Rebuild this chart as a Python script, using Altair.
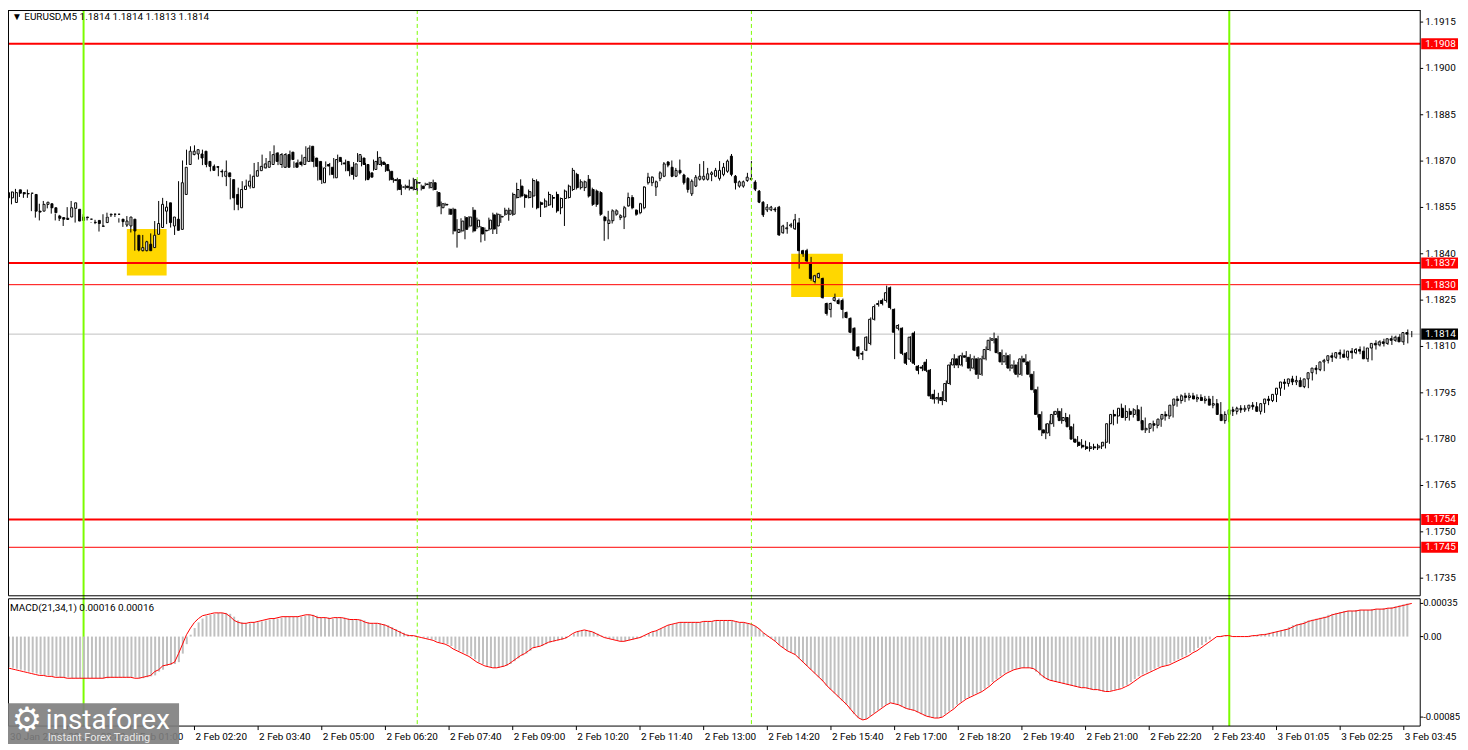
import altair as alt
import pandas as pd

# ---------------- data (EURUSD M5, bar index 0 = 30 Jan 22:20) ----------------
opens = [
 1.18581, 1.18581, 1.18566, 1.18607, 1.18598, 1.18595, 1.18596, 1.18592, 1.18538, 1.18538,
 1.18560, 1.18562, 1.18549, 1.18522, 1.18517, 1.18515, 1.18519, 1.18547, 1.18544, 1.18519,
 1.18517, 1.18512, 1.18502, 1.18508, 1.18490, 1.18501, 1.18526, 1.18528, 1.18528, 1.18512,
 1.18493, 1.18490, 1.18512, 1.18460, 1.18410, 1.18410, 1.18431, 1.18420, 1.18463, 1.18485,
 1.18538, 1.18565, 1.18490, 1.18512, 1.18479, 1.18592, 1.18689, 1.18721, 1.18723, 1.18723,
 1.18732, 1.18699, 1.18683, 1.18682, 1.18667, 1.18651, 1.18662, 1.18640, 1.18592, 1.18549,
 1.18608, 1.18619, 1.18614, 1.18651, 1.18669, 1.18678, 1.18680, 1.18689, 1.18726, 1.18689,
 1.18680, 1.18721, 1.18729, 1.18694, 1.18697, 1.18689, 1.18699, 1.18748, 1.18710, 1.18699,
 1.18630, 1.18689, 1.18680, 1.18646, 1.18712, 1.18694, 1.18699, 1.18680, 1.18651, 1.18699,
 1.18710, 1.18689, 1.18662, 1.18673, 1.18689, 1.18697, 1.18689, 1.18667, 1.18640, 1.18640,
 1.18616, 1.18619, 1.18616, 1.18608, 1.18630, 1.18619, 1.18626, 1.18614, 1.18630, 1.18598,
 1.18549, 1.18560, 1.18544, 1.18544, 1.18469, 1.18474, 1.18517, 1.18490, 1.18541, 1.18487,
 1.18485, 1.18476, 1.18480, 1.18526, 1.18490, 1.18519, 1.18528, 1.18528, 1.18528, 1.18582,
 1.18619, 1.18590, 1.18582, 1.18587, 1.18633, 1.18565, 1.18552, 1.18558, 1.18582, 1.18592,
 1.18549, 1.18579, 1.18582, 1.18608, 1.18657, 1.18614, 1.18614, 1.18641, 1.18608, 1.18603,
 1.18598, 1.18519, 1.18498, 1.18507, 1.18528, 1.18517, 1.18519, 1.18555, 1.18582, 1.18541,
 1.18533, 1.18549, 1.18630, 1.18630, 1.18616, 1.18644, 1.18651, 1.18697, 1.18680, 1.18651,
 1.18670, 1.18655, 1.18644, 1.18594, 1.18619, 1.18641, 1.18641, 1.18641, 1.18657, 1.18651,
 1.18644, 1.18657, 1.18667, 1.18716, 1.18651, 1.18619, 1.18619, 1.18637, 1.18644, 1.18632,
 1.18603, 1.18567, 1.18542, 1.18542, 1.18545, 1.18551, 1.18468, 1.18481, 1.18490, 1.18481,
 1.18500, 1.18410, 1.18410, 1.18371, 1.18310, 1.18323, 1.18320, 1.18239, 1.18220, 1.18249,
 1.18249, 1.18249, 1.18210, 1.18191, 1.18159, 1.18098, 1.18078, 1.18088, 1.18110, 1.18188,
 1.18236, 1.18249, 1.18249, 1.18290, 1.18220, 1.18159, 1.18159, 1.18078, 1.18059, 1.18143,
 1.18036, 1.18033, 1.18049, 1.18023, 1.17945, 1.17930, 1.17935, 1.17925, 1.17980, 1.18040,
 1.18060, 1.18040, 1.18070, 1.18065, 1.18030, 1.18060, 1.18010, 1.18060, 1.18090, 1.18120,
 1.18125, 1.18080, 1.18050, 1.18070, 1.18030, 1.18040, 1.18010, 1.18060, 1.18050, 1.18010,
 1.17960, 1.17880, 1.17830, 1.17820, 1.17850, 1.17880, 1.17890, 1.17860, 1.17870, 1.17840,
 1.17800, 1.17790, 1.17780, 1.17775, 1.17770, 1.17775, 1.17772, 1.17778, 1.17790, 1.17850,
 1.17880, 1.17875, 1.17900, 1.17870, 1.17890, 1.17880, 1.17895, 1.17860, 1.17830, 1.17835,
 1.17850, 1.17845, 1.17865, 1.17880, 1.17875, 1.17910, 1.17930, 1.17925, 1.17940, 1.17935,
 1.17940, 1.17930, 1.17935, 1.17925, 1.17930, 1.17910, 1.17915, 1.17880, 1.17860, 1.17880,
 1.17895, 1.17890, 1.17900, 1.17895, 1.17900, 1.17910, 1.17905, 1.17890, 1.17915, 1.17930,
 1.17925, 1.17945, 1.17965, 1.17985, 1.17980, 1.17995, 1.17985, 1.17990, 1.17970, 1.17995,
 1.18015, 1.18030, 1.18025, 1.18050, 1.18055, 1.18070, 1.18065, 1.18080, 1.18075, 1.18065,
 1.18085, 1.18080, 1.18090, 1.18085, 1.18060, 1.18095, 1.18110, 1.18105, 1.18115, 1.18110,
 1.18125, 1.18120, 1.18130, 1.18115, 1.18145]

highs = [
 1.18619, 1.18603, 1.18601, 1.18610, 1.18601, 1.18599, 1.18608, 1.18594, 1.18541, 1.18562,
 1.18571, 1.18565, 1.18551, 1.18530, 1.18526, 1.18519, 1.18551, 1.18571, 1.18547, 1.18522,
 1.18528, 1.18519, 1.18502, 1.18510, 1.18506, 1.18528, 1.18533, 1.18530, 1.18530, 1.18515,
 1.18512, 1.18522, 1.18515, 1.18474, 1.18426, 1.18461, 1.18442, 1.18466, 1.18506, 1.18571,
 1.18581, 1.18571, 1.18522, 1.18517, 1.18635, 1.18702, 1.18737, 1.18748, 1.18751, 1.18732,
 1.18737, 1.18702, 1.18689, 1.18689, 1.18683, 1.18673, 1.18702, 1.18646, 1.18594, 1.18614,
 1.18635, 1.18640, 1.18657, 1.18694, 1.18697, 1.18721, 1.18710, 1.18732, 1.18751, 1.18729,
 1.18726, 1.18726, 1.18734, 1.18699, 1.18705, 1.18721, 1.18748, 1.18751, 1.18716, 1.18702,
 1.18683, 1.18699, 1.18694, 1.18710, 1.18721, 1.18702, 1.18705, 1.18689, 1.18697, 1.18726,
 1.18716, 1.18694, 1.18667, 1.18705, 1.18732, 1.18702, 1.18694, 1.18673, 1.18646, 1.18646,
 1.18624, 1.18624, 1.18640, 1.18646, 1.18635, 1.18624, 1.18630, 1.18633, 1.18640, 1.18603,
 1.18569, 1.18565, 1.18547, 1.18549, 1.18512, 1.18515, 1.18522, 1.18522, 1.18551, 1.18517,
 1.18490, 1.18485, 1.18517, 1.18533, 1.18533, 1.18528, 1.18549, 1.18549, 1.18598, 1.18630,
 1.18641, 1.18594, 1.18608, 1.18644, 1.18641, 1.18569, 1.18579, 1.18601, 1.18590, 1.18601,
 1.18582, 1.18608, 1.18624, 1.18678, 1.18662, 1.18641, 1.18637, 1.18655, 1.18614, 1.18608,
 1.18603, 1.18523, 1.18539, 1.18544, 1.18544, 1.18528, 1.18555, 1.18598, 1.18590, 1.18544,
 1.18565, 1.18619, 1.18662, 1.18651, 1.18637, 1.18667, 1.18697, 1.18700, 1.18702, 1.18678,
 1.18705, 1.18659, 1.18648, 1.18641, 1.18655, 1.18691, 1.18700, 1.18678, 1.18667, 1.18678,
 1.18700, 1.18694, 1.18705, 1.18723, 1.18655, 1.18637, 1.18637, 1.18662, 1.18700, 1.18638,
 1.18606, 1.18570, 1.18561, 1.18555, 1.18551, 1.18555, 1.18494, 1.18503, 1.18500, 1.18529,
 1.18516, 1.18413, 1.18416, 1.18390, 1.18332, 1.18339, 1.18323, 1.18242, 1.18242, 1.18271,
 1.18255, 1.18255, 1.18213, 1.18194, 1.18162, 1.18101, 1.18085, 1.18133, 1.18194, 1.18236,
 1.18249, 1.18255, 1.18297, 1.18294, 1.18223, 1.18172, 1.18162, 1.18082, 1.18133, 1.18149,
 1.18040, 1.18040, 1.18059, 1.18027, 1.17960, 1.17950, 1.17955, 1.17990, 1.18050, 1.18075,
 1.18070, 1.18080, 1.18085, 1.18075, 1.18070, 1.18065, 1.18070, 1.18100, 1.18130, 1.18145,
 1.18135, 1.18090, 1.18080, 1.18075, 1.18055, 1.18050, 1.18070, 1.18075, 1.18055, 1.18020,
 1.17970, 1.17890, 1.17850, 1.17860, 1.17890, 1.17900, 1.17900, 1.17885, 1.17880, 1.17850,
 1.17810, 1.17800, 1.17795, 1.17790, 1.17785, 1.17785, 1.17790, 1.17800, 1.17860, 1.17895,
 1.17890, 1.17915, 1.17910, 1.17900, 1.17900, 1.17910, 1.17905, 1.17870, 1.17850, 1.17860,
 1.17860, 1.17875, 1.17890, 1.17895, 1.17920, 1.17940, 1.17945, 1.17950, 1.17950, 1.17950,
 1.17945, 1.17945, 1.17940, 1.17940, 1.17940, 1.17930, 1.17920, 1.17890, 1.17895, 1.17905,
 1.17905, 1.17910, 1.17910, 1.17910, 1.17920, 1.17920, 1.17915, 1.17925, 1.17940, 1.17945,
 1.17955, 1.17975, 1.17995, 1.17995, 1.18005, 1.18005, 1.18000, 1.17995, 1.18005, 1.18025,
 1.18040, 1.18045, 1.18060, 1.18065, 1.18080, 1.18080, 1.18090, 1.18090, 1.18085, 1.18095,
 1.18095, 1.18100, 1.18100, 1.18090, 1.18105, 1.18120, 1.18120, 1.18125, 1.18125, 1.18135,
 1.18135, 1.18140, 1.18135, 1.18155, 1.18150]

lows = [
 1.18576, 1.18576, 1.18560, 1.18592, 1.18584, 1.18581, 1.18581, 1.18538, 1.18517, 1.18508,
 1.18558, 1.18547, 1.18530, 1.18508, 1.18506, 1.18490, 1.18515, 1.18538, 1.18501, 1.18506,
 1.18515, 1.18508, 1.18500, 1.18496, 1.18472, 1.18490, 1.18521, 1.18519, 1.18519, 1.18501,
 1.18487, 1.18487, 1.18469, 1.18410, 1.18408, 1.18408, 1.18408, 1.18415, 1.18461, 1.18483,
 1.18512, 1.18496, 1.18485, 1.18461, 1.18476, 1.18587, 1.18687, 1.18716, 1.18719, 1.18705,
 1.18687, 1.18680, 1.18667, 1.18676, 1.18651, 1.18648, 1.18619, 1.18576, 1.18541, 1.18541,
 1.18605, 1.18616, 1.18611, 1.18648, 1.18667, 1.18676, 1.18676, 1.18687, 1.18694, 1.18687,
 1.18678, 1.18678, 1.18702, 1.18678, 1.18680, 1.18683, 1.18697, 1.18697, 1.18680, 1.18637,
 1.18626, 1.18680, 1.18654, 1.18644, 1.18694, 1.18687, 1.18667, 1.18651, 1.18640, 1.18697,
 1.18683, 1.18637, 1.18644, 1.18669, 1.18687, 1.18683, 1.18665, 1.18637, 1.18630, 1.18605,
 1.18590, 1.18608, 1.18605, 1.18605, 1.18592, 1.18605, 1.18619, 1.18611, 1.18605, 1.18551,
 1.18528, 1.18555, 1.18526, 1.18463, 1.18420, 1.18469, 1.18447, 1.18485, 1.18469, 1.18480,
 1.18437, 1.18442, 1.18474, 1.18464, 1.18464, 1.18500, 1.18523, 1.18507, 1.18523, 1.18579,
 1.18582, 1.18549, 1.18579, 1.18549, 1.18544, 1.18519, 1.18549, 1.18555, 1.18549, 1.18533,
 1.18528, 1.18490, 1.18579, 1.18603, 1.18608, 1.18608, 1.18603, 1.18582, 1.18555, 1.18552,
 1.18523, 1.18442, 1.18447, 1.18498, 1.18523, 1.18509, 1.18480, 1.18552, 1.18544, 1.18523,
 1.18528, 1.18544, 1.18624, 1.18619, 1.18587, 1.18635, 1.18648, 1.18680, 1.18648, 1.18648,
 1.18657, 1.18624, 1.18598, 1.18587, 1.18616, 1.18637, 1.18637, 1.18637, 1.18635, 1.18648,
 1.18637, 1.18651, 1.18662, 1.18651, 1.18608, 1.18614, 1.18614, 1.18633, 1.18637, 1.18603,
 1.18564, 1.18519, 1.18535, 1.18538, 1.18535, 1.18458, 1.18465, 1.18465, 1.18484, 1.18477,
 1.18352, 1.18390, 1.18371, 1.18313, 1.18304, 1.18320, 1.18255, 1.18200, 1.18194, 1.18245,
 1.18236, 1.18191, 1.18191, 1.18143, 1.18085, 1.18059, 1.18056, 1.18085, 1.18104, 1.18184,
 1.18229, 1.18233, 1.18242, 1.18220, 1.18059, 1.18152, 1.18072, 1.18040, 1.18050, 1.18040,
 1.18010, 1.18020, 1.18017, 1.17930, 1.17915, 1.17915, 1.17910, 1.17920, 1.17975, 1.18030,
 1.18030, 1.18035, 1.18050, 1.18020, 1.18025, 1.17995, 1.18005, 1.18055, 1.18085, 1.18110,
 1.18075, 1.18040, 1.18040, 1.18020, 1.18015, 1.18000, 1.18005, 1.18040, 1.18000, 1.17950,
 1.17870, 1.17810, 1.17800, 1.17810, 1.17840, 1.17870, 1.17850, 1.17855, 1.17830, 1.17790,
 1.17775, 1.17770, 1.17765, 1.17760, 1.17765, 1.17765, 1.17768, 1.17770, 1.17785, 1.17845,
 1.17850, 1.17870, 1.17860, 1.17860, 1.17870, 1.17875, 1.17850, 1.17820, 1.17820, 1.17825,
 1.17835, 1.17840, 1.17860, 1.17865, 1.17870, 1.17905, 1.17915, 1.17920, 1.17925, 1.17930,
 1.17920, 1.17925, 1.17915, 1.17920, 1.17900, 1.17905, 1.17875, 1.17850, 1.17855, 1.17875,
 1.17880, 1.17885, 1.17888, 1.17890, 1.17895, 1.17895, 1.17880, 1.17885, 1.17910, 1.17920,
 1.17920, 1.17940, 1.17960, 1.17970, 1.17975, 1.17975, 1.17980, 1.17965, 1.17965, 1.17990,
 1.18010, 1.18020, 1.18020, 1.18045, 1.18050, 1.18060, 1.18060, 1.18065, 1.18055, 1.18060,
 1.18075, 1.18075, 1.18080, 1.18050, 1.18055, 1.18090, 1.18100, 1.18100, 1.18105, 1.18105,
 1.18115, 1.18115, 1.18105, 1.18110, 1.18130]

closes = [
 1.18598, 1.18600, 1.18598, 1.18596, 1.18594, 1.18594, 1.18596, 1.18538, 1.18535, 1.18560,
 1.18567, 1.18549, 1.18533, 1.18515, 1.18512, 1.18511, 1.18549, 1.18565, 1.18506, 1.18508,
 1.18519, 1.18512, 1.18501, 1.18498, 1.18489, 1.18519, 1.18528, 1.18528, 1.18528, 1.18504,
 1.18506, 1.18519, 1.18474, 1.18412, 1.18420, 1.18439, 1.18410, 1.18460, 1.18498, 1.18560,
 1.18551, 1.18501, 1.18519, 1.18476, 1.18630, 1.18680, 1.18732, 1.18732, 1.18737, 1.18710,
 1.18689, 1.18683, 1.18670, 1.18680, 1.18665, 1.18667, 1.18649, 1.18581, 1.18560, 1.18608,
 1.18619, 1.18635, 1.18651, 1.18669, 1.18683, 1.18691, 1.18699, 1.18721, 1.18699, 1.18721,
 1.18721, 1.18680, 1.18705, 1.18680, 1.18689, 1.18712, 1.18742, 1.18699, 1.18683, 1.18640,
 1.18678, 1.18684, 1.18657, 1.18705, 1.18699, 1.18691, 1.18669, 1.18657, 1.18691, 1.18721,
 1.18689, 1.18640, 1.18648, 1.18699, 1.18712, 1.18689, 1.18669, 1.18640, 1.18637, 1.18608,
 1.18616, 1.18614, 1.18611, 1.18640, 1.18629, 1.18611, 1.18624, 1.18630, 1.18608, 1.18555,
 1.18562, 1.18558, 1.18528, 1.18474, 1.18479, 1.18506, 1.18479, 1.18519, 1.18474, 1.18509,
 1.18464, 1.18474, 1.18509, 1.18480, 1.18528, 1.18521, 1.18541, 1.18541, 1.18592, 1.18608,
 1.18587, 1.18582, 1.18601, 1.18637, 1.18549, 1.18560, 1.18571, 1.18592, 1.18580, 1.18539,
 1.18579, 1.18603, 1.18619, 1.18670, 1.18614, 1.18633, 1.18633, 1.18587, 1.18560, 1.18560,
 1.18528, 1.18507, 1.18509, 1.18539, 1.18539, 1.18523, 1.18549, 1.18582, 1.18549, 1.18528,
 1.18562, 1.18616, 1.18648, 1.18648, 1.18633, 1.18662, 1.18691, 1.18687, 1.18651, 1.18670,
 1.18662, 1.18630, 1.18608, 1.18635, 1.18648, 1.18651, 1.18651, 1.18659, 1.18662, 1.18670,
 1.18670, 1.18680, 1.18700, 1.18657, 1.18630, 1.18633, 1.18633, 1.18648, 1.18641, 1.18609,
 1.18567, 1.18526, 1.18551, 1.18551, 1.18542, 1.18461, 1.18490, 1.18484, 1.18494, 1.18510,
 1.18410, 1.18400, 1.18377, 1.18320, 1.18329, 1.18336, 1.18258, 1.18207, 1.18239, 1.18258,
 1.18239, 1.18220, 1.18194, 1.18146, 1.18088, 1.18069, 1.18075, 1.18130, 1.18188, 1.18229,
 1.18239, 1.18239, 1.18274, 1.18226, 1.18146, 1.18168, 1.18078, 1.18046, 1.18130, 1.18046,
 1.18023, 1.18030, 1.18023, 1.17940, 1.17930, 1.17935, 1.17925, 1.17980, 1.18040, 1.18060,
 1.18040, 1.18070, 1.18065, 1.18030, 1.18060, 1.18010, 1.18060, 1.18090, 1.18120, 1.18125,
 1.18080, 1.18050, 1.18070, 1.18030, 1.18040, 1.18010, 1.18060, 1.18050, 1.18010, 1.17960,
 1.17880, 1.17830, 1.17820, 1.17850, 1.17880, 1.17890, 1.17860, 1.17870, 1.17840, 1.17800,
 1.17790, 1.17780, 1.17775, 1.17770, 1.17775, 1.17772, 1.17778, 1.17790, 1.17850, 1.17880,
 1.17875, 1.17900, 1.17870, 1.17890, 1.17880, 1.17895, 1.17860, 1.17830, 1.17835, 1.17850,
 1.17845, 1.17865, 1.17880, 1.17875, 1.17910, 1.17930, 1.17925, 1.17940, 1.17935, 1.17940,
 1.17930, 1.17935, 1.17925, 1.17930, 1.17910, 1.17915, 1.17880, 1.17860, 1.17880, 1.17895,
 1.17890, 1.17900, 1.17895, 1.17900, 1.17910, 1.17905, 1.17890, 1.17915, 1.17930, 1.17925,
 1.17945, 1.17965, 1.17985, 1.17980, 1.17995, 1.17985, 1.17990, 1.17970, 1.17995, 1.18015,
 1.18030, 1.18025, 1.18050, 1.18055, 1.18070, 1.18065, 1.18080, 1.18075, 1.18065, 1.18085,
 1.18080, 1.18090, 1.18085, 1.18060, 1.18095, 1.18110, 1.18105, 1.18115, 1.18110, 1.18125,
 1.18120, 1.18130, 1.18115, 1.18145, 1.18140]

macd_values = [
 -0.00032, -0.00033, -0.00034, -0.00035, -0.00036, -0.00037, -0.00038, -0.00039, -0.00040, -0.00041,
 -0.00041, -0.00042, -0.00042, -0.00043, -0.00043, -0.00043, -0.00044, -0.00044, -0.00044, -0.00044,
 -0.00044, -0.00044, -0.00044, -0.00044, -0.00044, -0.00044, -0.00043, -0.00043, -0.00043, -0.00043,
 -0.00043, -0.00043, -0.00043, -0.00044, -0.00044, -0.00043, -0.00042, -0.00041, -0.00037, -0.00035,
 -0.00031, -0.00030, -0.00029, -0.00027, -0.00018, -0.00008, 0.00002, 0.00009, 0.00015, 0.00019,
 0.00022, 0.00023, 0.00024, 0.00025, 0.00025, 0.00025, 0.00024, 0.00021, 0.00017, 0.00015,
 0.00014, 0.00014, 0.00015, 0.00015, 0.00016, 0.00017, 0.00018, 0.00019, 0.00019, 0.00020,
 0.00021, 0.00021, 0.00021, 0.00021, 0.00021, 0.00022, 0.00023, 0.00023, 0.00022, 0.00020,
 0.00020, 0.00020, 0.00019, 0.00020, 0.00020, 0.00020, 0.00019, 0.00018, 0.00018, 0.00018,
 0.00017, 0.00015, 0.00014, 0.00014, 0.00014, 0.00013, 0.00012, 0.00010, 0.00008, 0.00006,
 0.00004, 0.00002, 0.00001, 0.00001, 0.00000, -0.00001, -0.00002, -0.00003, -0.00004, -0.00006,
 -0.00007, -0.00008, -0.00010, -0.00013, -0.00015, -0.00017, -0.00019, -0.00021, -0.00024, -0.00027,
 -0.00029, -0.00031, -0.00032, -0.00033, -0.00033, -0.00032, -0.00031, -0.00029, -0.00026, -0.00023,
 -0.00020, -0.00018, -0.00015, -0.00012, -0.00011, -0.00010, -0.00008, -0.00006, -0.00005, -0.00004,
 -0.00003, -0.00002, 0.00000, 0.00003, 0.00005, 0.00006, 0.00007, 0.00006, 0.00005, 0.00003,
 0.00001, -0.00001, -0.00002, -0.00003, -0.00004, -0.00005, -0.00005, -0.00004, -0.00003, -0.00002,
 -0.00001, 0.00001, 0.00003, 0.00005, 0.00006, 0.00008, 0.00010, 0.00012, 0.00013, 0.00014,
 0.00015, 0.00015, 0.00015, 0.00015, 0.00015, 0.00015, 0.00016, 0.00016, 0.00016, 0.00017,
 0.00017, 0.00017, 0.00017, 0.00017, 0.00016, 0.00015, 0.00015, 0.00014, 0.00013, 0.00011,
 0.00008, 0.00004, 0.00001, -0.00002, -0.00005, -0.00009, -0.00012, -0.00015, -0.00017, -0.00019,
 -0.00023, -0.00027, -0.00031, -0.00035, -0.00039, -0.00043, -0.00047, -0.00052, -0.00056, -0.00060,
 -0.00064, -0.00068, -0.00072, -0.00077, -0.00082, -0.00086, -0.00088, -0.00087, -0.00084, -0.00081,
 -0.00078, -0.00075, -0.00072, -0.00070, -0.00071, -0.00072, -0.00074, -0.00076, -0.00077, -0.00078,
 -0.00080, -0.00082, -0.00084, -0.00085, -0.00086, -0.00086, -0.00085, -0.00082, -0.00079, -0.00076,
 -0.00072, -0.00069, -0.00066, -0.00064, -0.00062, -0.00060, -0.00058, -0.00055, -0.00052, -0.00048,
 -0.00045, -0.00042, -0.00039, -0.00037, -0.00035, -0.00034, -0.00033, -0.00033, -0.00033, -0.00034,
 -0.00037, -0.00041, -0.00044, -0.00046, -0.00047, -0.00048, -0.00049, -0.00050, -0.00051, -0.00052,
 -0.00053, -0.00054, -0.00054, -0.00055, -0.00056, -0.00056, -0.00057, -0.00058, -0.00058, -0.00057,
 -0.00056, -0.00055, -0.00053, -0.00051, -0.00048, -0.00045, -0.00042, -0.00040, -0.00038, -0.00036,
 -0.00034, -0.00032, -0.00031, -0.00030, -0.00028, -0.00026, -0.00024, -0.00022, -0.00020, -0.00017,
 -0.00015, -0.00012, -0.00009, -0.00006, -0.00003, 0.00000, 0.00000, 0.00001, 0.00001, 0.00000,
 0.00000, 0.00000, 0.00000, 0.00000, 0.00001, 0.00001, 0.00002, 0.00002, 0.00003, 0.00004,
 0.00005, 0.00006, 0.00007, 0.00008, 0.00010, 0.00012, 0.00013, 0.00014, 0.00016, 0.00017,
 0.00018, 0.00019, 0.00020, 0.00021, 0.00023, 0.00024, 0.00025, 0.00026, 0.00027, 0.00027,
 0.00027, 0.00028, 0.00028, 0.00028, 0.00028, 0.00029, 0.00029, 0.00029, 0.00030, 0.00030,
 0.00031, 0.00032, 0.00033, 0.00034, 0.00035]

time_tick_bars = [0, 16, 32, 48, 64, 80, 96, 112, 128, 144, 160, 176, 192, 208, 224, 240,
                  256, 272, 288, 304, 320, 336, 352]
time_tick_labels = ["30 Jan 2026", "30 Jan 23:40", "2 Feb 01:00", "2 Feb 02:20", "2 Feb 03:40",
                    "2 Feb 05:00", "2 Feb 06:20", "2 Feb 07:40", "2 Feb 09:00", "2 Feb 10:20",
                    "2 Feb 11:40", "2 Feb 13:00", "2 Feb 14:20", "2 Feb 15:40", "2 Feb 17:00",
                    "2 Feb 18:20", "2 Feb 19:40", "2 Feb 21:00", "2 Feb 22:20", "2 Feb 23:40",
                    "3 Feb 01:05", "3 Feb 02:25", "3 Feb 03:45"]
price_ticks = [1.1915, 1.1900, 1.1885, 1.1870, 1.1855, 1.1840, 1.1825, 1.1810,
               1.1795, 1.1780, 1.1765, 1.1750, 1.1735]
macd_ticks = [0.00035, 0.0, -0.00085]
macd_tick_labels = ["0.00035", "0.00", "-0.00085"]
level_prices = [1.1908, 1.1837, 1.1830, 1.1754, 1.1745]
level_widths = [2, 2, 1, 2, 1]
current_price = 1.1814
day_separator_bars = [20, 308]
session_bars = [104, 188]
zone_start = [31, 198]
zone_end = [41, 211]
zone_high = [1.1848, 1.1840]
zone_low = [1.1833, 1.1826]
header_text = "\u25BC EURUSD,M5  1.1814 1.1814 1.1813 1.1814"
macd_text = "MACD(21,34,1) 0.00016 0.00016"

# ---------------- frames ----------------
n = min(len(opens), len(highs), len(lows), len(closes))
bars = pd.DataFrame({"i": list(range(n)), "o": opens[:n], "h": highs[:n],
                     "l": lows[:n], "c": closes[:n]})
bars["h"] = bars[["h", "o", "c"]].max(axis=1)
bars["l"] = bars[["l", "o", "c"]].min(axis=1)
bars["fill"] = ["white" if c >= o else "black" for o, c in zip(bars["o"], bars["c"])]
macd_df = pd.DataFrame({"i": list(range(len(macd_values))), "m": macd_values})

W, H = 1424, 720          # plot area; left padding -4 puts x=0 at page x 4
MAIN_H = 589
M_TOP, M_BOT = 592, 720
FONT = "Roboto"

XS = alt.Scale(domain=[0.125, 356.125], range=[0, W], nice=False, zero=False)
PS = alt.Scale(domain=[1.17293, 1.19189], range=[MAIN_H, 0], nice=False, zero=False)
MS = alt.Scale(domain=[-0.000945, 0.000399], range=[M_BOT, M_TOP], nice=False, zero=False)


def X(f):
    return alt.X(f, scale=XS, axis=None)


def PY(f):
    return alt.Y(f, scale=PS, axis=None)


def MY(f):
    return alt.Y(f, scale=MS, axis=None)


def PX(f):
    return alt.X(f, scale=None, axis=None)


def PYpx(f):
    return alt.Y(f, scale=None, axis=None)


zones = pd.DataFrame({"a": zone_start, "b": zone_end, "p1": zone_high, "p2": zone_low})
zone_layer = alt.Chart(zones).mark_rect(color="#FFD700").encode(
    x=X("a:Q"), x2="b:Q", y=PY("p1:Q"), y2="p2:Q")

cur_df = pd.DataFrame({"p": [current_price], "t": [f"{current_price:.4f}"]})
cur_line = alt.Chart(cur_df).mark_rule(color="#C0C0C0", strokeWidth=1).encode(
    y=PY("p:Q"), x=alt.value(4), x2=alt.value(W))

wicks = alt.Chart(bars).mark_rule(color="black", strokeWidth=1).encode(
    x=X("i:Q"), y=PY("h:Q"), y2="l:Q")
bodies = alt.Chart(bars).mark_bar(size=2, stroke="black", strokeWidth=1).encode(
    x=X("i:Q"), y=PY("o:Q"), y2="c:Q", fill=alt.Fill("fill:N", scale=None))

lv = pd.DataFrame({"p": level_prices, "w": level_widths,
                   "t": [f"{p:.4f}" for p in level_prices]})
lv["top"] = lv["p"] + 0.00018
lv["bot"] = lv["p"] - 0.00018
level_rules = alt.Chart(lv).mark_rule(color="#FF0000").encode(
    y=PY("p:Q"), x=alt.value(4), x2=alt.value(W),
    strokeWidth=alt.StrokeWidth("w:Q", scale=None))

day_lines = alt.Chart(pd.DataFrame({"i": day_separator_bars})).mark_rule(
    color="#7CFC00", strokeWidth=2, xOffset=0.5).encode(
    x=X("i:Q"), y=alt.value(0), y2=alt.value(M_BOT))
sess_lines = alt.Chart(pd.DataFrame({"i": session_bars})).mark_rule(
    color="#7CFC00", strokeWidth=1, strokeDash=[4, 3]).encode(
    x=X("i:Q"), y=alt.value(0), y2=alt.value(M_BOT))

macd_bars = alt.Chart(macd_df).mark_bar(size=2, color="#C0C0C0", xOffset=0.5).encode(
    x=X("i:Q"), y=MY("m:Q"), y2=alt.datum(0))
macd_line = alt.Chart(macd_df).mark_line(color="#FF0000", strokeWidth=1).encode(
    x=X("i:Q"), y=MY("m:Q"))

# frame lines (panel borders)
L = 4.5
frames = pd.DataFrame({
    "x1": [L, L, L, W, L, L, L, W],
    "x2": [W, W, L, W, W, W, L, W],
    "y1": [0.5, MAIN_H, 0, 0, M_TOP, M_BOT, M_TOP, M_TOP],
    "y2": [0.5, MAIN_H, MAIN_H, MAIN_H, M_TOP, M_BOT, M_BOT, M_BOT]})
frame_layer = alt.Chart(frames).mark_rule(color="black", strokeWidth=1).encode(
    x=PX("x1:Q"), x2="x2:Q", y=PYpx("y1:Q"), y2="y2:Q")

# price axis
pt = pd.DataFrame({"v": price_ticks, "t": [f"{v:.4f}" for v in price_ticks]})
p_ticks = alt.Chart(pt).mark_rule(color="black").encode(
    y=PY("v:Q"), x=alt.value(W), x2=alt.value(W + 3))
p_labels = alt.Chart(pt).mark_text(align="left", baseline="middle", font=FONT,
                                   fontSize=10, color="black").encode(
    y=PY("v:Q"), x=alt.value(W + 5), text="t:N")

lv_boxes = alt.Chart(lv).mark_rect(color="#FF0000").encode(
    x=alt.value(W + 1), x2=alt.value(W + 38), y=PY("top:Q"), y2="bot:Q")
lv_text = alt.Chart(lv).mark_text(align="left", baseline="middle", font=FONT,
                                  fontSize=10, color="white").encode(
    x=alt.value(W + 5), y=PY("p:Q"), text="t:N")
cur_df["top"] = cur_df["p"] + 0.00018
cur_df["bot"] = cur_df["p"] - 0.00018
cur_box = alt.Chart(cur_df).mark_rect(color="black").encode(
    x=alt.value(W + 1), x2=alt.value(W + 38), y=PY("top:Q"), y2="bot:Q")
cur_text = alt.Chart(cur_df).mark_text(align="left", baseline="middle", font=FONT,
                                       fontSize=10, color="white").encode(
    x=alt.value(W + 5), y=PY("p:Q"), text="t:N")

# MACD axis
mt = pd.DataFrame({"v": macd_ticks, "t": macd_tick_labels})
m_ticks = alt.Chart(mt).mark_rule(color="black").encode(
    y=MY("v:Q"), x=alt.value(W), x2=alt.value(W + 3))
m_labels = alt.Chart(mt).mark_text(align="left", baseline="middle", font=FONT,
                                   fontSize=9.5, color="black").encode(
    y=MY("v:Q"), x=alt.value(W + 3), text="t:N")

# time axis (first label kept inside the visible page edge)
tt = pd.DataFrame({"i": time_tick_bars, "t": time_tick_labels})
tt["li"] = tt["i"].clip(lower=1.4)
t_ticks = alt.Chart(tt).mark_rule(color="black").encode(
    x=X("i:Q"), y=alt.value(M_BOT), y2=alt.value(M_BOT + 4))
t_labels = alt.Chart(tt).mark_text(align="left", baseline="middle", font=FONT,
                                   fontSize=10, color="black", dx=1).encode(
    x=X("li:Q"), y=alt.value(M_BOT + 11), text="t:N")

# header texts
header = alt.Chart(pd.DataFrame({"t": [header_text]})).mark_text(
    align="left", baseline="middle", font=FONT, fontSize=10, color="black").encode(
    x=alt.value(8), y=alt.value(7), text="t:N")
macd_label = alt.Chart(pd.DataFrame({"t": [macd_text]})).mark_text(
    align="left", baseline="middle", font=FONT, fontSize=10, color="black").encode(
    x=alt.value(6), y=alt.value(M_TOP + 9), text="t:N")

# watermark
wm_box = alt.Chart(pd.DataFrame({"a": [0]})).mark_rect(color="#7d7d7d", opacity=0.9).encode(
    x=alt.value(4), x2=alt.value(176), y=alt.value(697), y2=alt.value(738))
wm_gear = alt.Chart(pd.DataFrame({"t": ["\u2699"]})).mark_text(
    align="center", baseline="middle", font="DejaVu Sans", fontSize=34, color="white").encode(
    x=alt.value(23), y=alt.value(715), text="t:N")
wm_name = alt.Chart(pd.DataFrame({"t": ["instaforex"]})).mark_text(
    align="left", baseline="alphabetic", font=FONT, fontSize=28, color="white").encode(
    x=alt.value(42), y=alt.value(723), text="t:N")
wm_sub = alt.Chart(pd.DataFrame({"t": ["Instant Forex Trading"]})).mark_text(
    align="left", baseline="middle", font=FONT, fontSize=11, color="#e8e8e8").encode(
    x=alt.value(44), y=alt.value(732), text="t:N")

chart = alt.layer(
    zone_layer, cur_line, wicks, bodies, level_rules, day_lines, sess_lines,
    macd_bars, macd_line, frame_layer,
    p_ticks, p_labels, lv_boxes, lv_text, cur_box, cur_text,
    m_ticks, m_labels, t_ticks, t_labels, header, macd_label,
    wm_box, wm_gear, wm_name, wm_sub
).resolve_scale(
    x="independent", y="independent"
).properties(
    width=W, height=H,
    padding={"left": -4, "top": 0, "right": 40, "bottom": 18},
    autosize=alt.AutoSizeParams(type="none"),
    background="white"
).configure_view(stroke=None)

chart.save("out.html", embed_options={"renderer": "svg", "actions": False})
